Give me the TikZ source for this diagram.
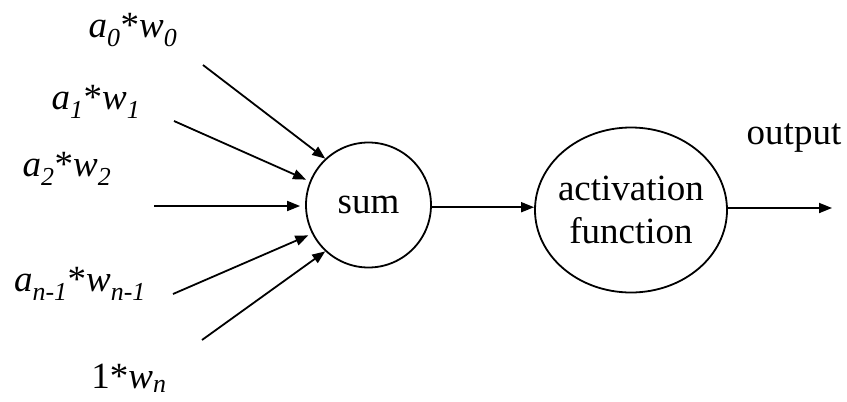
\documentclass[tikz,border=0pt]{standalone}
\usepackage{fontspec}
\setmainfont{Liberation Serif}
\usetikzlibrary{arrows.meta,shapes.geometric}
\newcommand{\isub}[1]{\textsubscript{\textit{#1}}}
\begin{document}
\begin{tikzpicture}[x=1pt,y=-1pt,
  font=\fontsize{37}{40}\selectfont,
  line width=1.8pt,
  conn/.style={-{Triangle[length=13pt,width=10pt]}},
  unit/.style={draw,circle,minimum size=125pt,inner sep=0pt},
  actunit/.style={draw,ellipse,minimum width=192pt,minimum height=165pt,
    inner xsep=-6pt,inner ysep=0pt,align=center},
  lbl/.style={inner sep=0pt}]
  \useasboundingbox (0,0) rectangle (847,402);

  % neuron body: summation and activation
  \node[unit] (sum) at (368.5,205) {sum};
  \node[actunit] (act) at (631,210) {activation\\[3pt]function};

  % weighted inputs
  \node[lbl] (l0) at (133,30)  {\textit{a}\isub{0}*\textit{w}\isub{0}};
  \node[lbl] (l1) at (96,102)  {\textit{a}\isub{1}*\textit{w}\isub{1}};
  \node[lbl] (l2) at (67,169)  {\textit{a}\isub{2}*\textit{w}\isub{2}};
  \node[lbl] (l3) at (80,284)  {\textit{a}\isub{n-1}*\textit{w}\isub{n-1}};
  \node[lbl] (l4) at (129,378) {1*\textit{w}\isub{n}};
  \node[lbl] (lo) at (794,138) {output};

  \coordinate (s0) at (203,65);
  \coordinate (s1) at (174,121);
  \coordinate (s2) at (154,206);
  \coordinate (s3) at (173,294);
  \coordinate (s4) at (202,340);
  \coordinate (out) at (832,208);

  \draw[conn] (s0) -- (sum.133);
  \draw[conn,shorten >=4pt] (s1) -- (sum.158);
  \draw[conn,shorten >=5pt] (s2) -- (s2 -| sum.west);
  \draw[conn,shorten >=4pt] (s3) -- (sum.207);
  \draw[conn] (s4) -- (sum.227);

  \draw[conn] (sum.-2) -- (sum.-2 -| act.west);
  \draw[conn] (act.east |- out) -- (out);
\end{tikzpicture}
\end{document}
